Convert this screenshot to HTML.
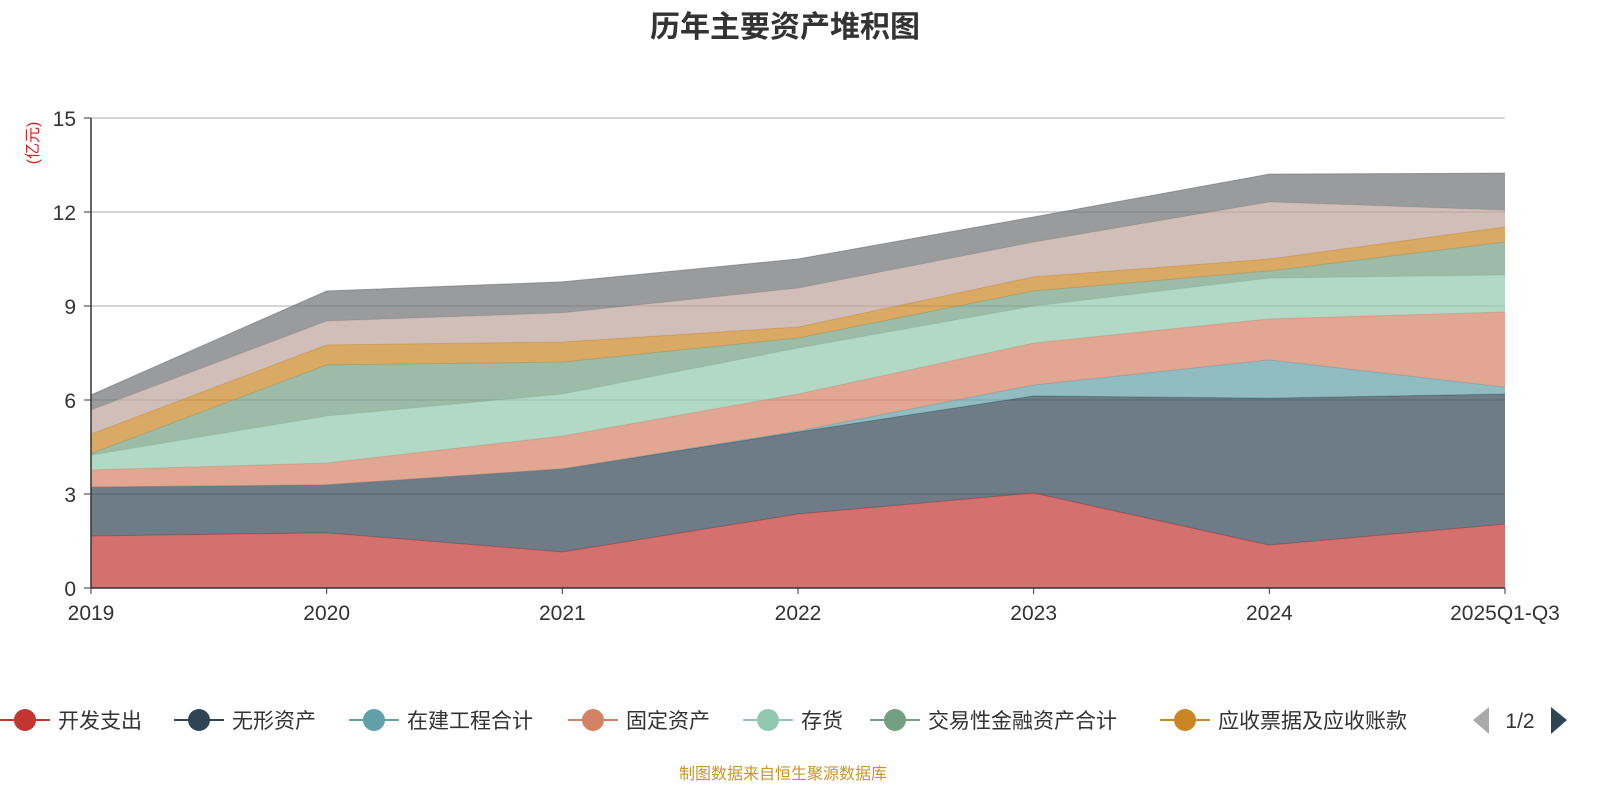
<!DOCTYPE html>
<html><head><meta charset="utf-8"><style>
html,body{margin:0;padding:0;background:#fff;width:1600px;height:800px;overflow:hidden;font-family:"Liberation Sans","Noto Sans CJK SC",sans-serif}
</style></head><body>
<svg id="c" width="1600" height="800" xmlns="http://www.w3.org/2000/svg" font-family="Liberation Sans, Noto Sans CJK SC, sans-serif"></svg>
<script>
const categories=["2019","2020","2021","2022","2023","2024","2025Q1-Q3"];
const seriesNames=["开发支出","无形资产","在建工程合计","固定资产","存货","交易性金融资产合计","应收票据及应收账款","其他1","其他2"];
const s0=[1.66,1.76,1.15,2.36,3.03,1.37,2.04];
const s1=[1.56,1.53,2.65,2.62,3.10,4.69,4.15];
const s2=[0,0,0,0.03,0.35,1.22,0.22];
const s3=[0.55,0.70,1.05,1.18,1.34,1.31,2.40];
const s4=[0.47,1.50,1.34,1.47,1.18,1.30,1.18];
const s5=[0.05,1.63,1.02,0.32,0.48,0.23,1.05];
const s6=[0.62,0.64,0.64,0.35,0.45,0.38,0.48];
const s7=[0.77,0.76,0.93,1.24,1.11,1.82,0.54];
const s8=[0.48,0.96,0.99,0.93,0.80,0.89,1.18];
const series=[s0,s1,s2,s3,s4,s5,s6,s7,s8];
const yTicks=[0,3,6,9,12,15];
const colors=["#c23531","#2f4554","#61a0a8","#d48265","#91c7ae","#749f83","#ca8622","#bda29a","#6e7074"];
const NS="http://www.w3.org/2000/svg";
const svg=document.getElementById('c');
const x0=91,x1=1505,yB=588,yT=118;
const xs=i=>x0+(x1-x0)*i/(categories.length-1);
const ys=v=>yB-(yB-yT)*v/15;
function el(t,a,p){const e=document.createElementNS(NS,t);for(const k in a)e.setAttribute(k,a[k]);(p||svg).appendChild(e);return e;}
// title
let t=el('text',{x:785,y:37,'text-anchor':'middle','font-size':30,'font-weight':'bold',fill:'#333'});t.textContent='历年主要资产堆积图';


// grid
yTicks.forEach(v=>{
 if(v>0){const g=el('line',{x1:x0,x2:x1,y1:ys(v),y2:ys(v),stroke:'#c8c8c8','stroke-width':1.5});
 
 }
 const l=el('text',{x:76,y:ys(v)+8,'text-anchor':'end','font-size':21,fill:'#333'});l.textContent=v;
 
 
 el('line',{x1:84,x2:x0,y1:ys(v),y2:ys(v),stroke:'#333'});
});
// areas
let base=categories.map(()=>0);
series.forEach((s,si)=>{
 const top=base.map((b,i)=>b+s[i]);
 let d='M'+categories.map((_,i)=>xs(i)+','+ys(top[i])).join('L');
 for(let i=categories.length-1;i>=0;i--)d+='L'+xs(i)+','+ys(base[i]);
 const a=el('path',{d:d+'Z',fill:colors[si],'fill-opacity':0.7});
 
 
 el('polyline',{points:categories.map((_,i)=>xs(i)+','+ys(top[i])).join(' '),fill:'none',stroke:colors[si],'stroke-width':1,'stroke-opacity':0.6});
 base=top;
});
// axes
el('line',{x1:x0,x2:x0,y1:yT,y2:yB,stroke:'#333','stroke-width':1.5});
el('line',{x1:x0,x2:x1,y1:yB,y2:yB,stroke:'#333','stroke-width':1.5});
categories.forEach((c,i)=>{
 el('line',{x1:xs(i),x2:xs(i),y1:yB,y2:yB+6,stroke:'#333'});
 const l=el('text',{x:xs(i),y:620,'text-anchor':'middle','font-size':21,fill:'#333'});l.textContent=c;
 
 
});
let u=el('text',{x:0,y:0,'font-size':16,fill:'#e02020',transform:'translate(38,143) rotate(-90)','text-anchor':'middle'});u.textContent='(亿元)';


// legend
const lx=[0,174,349,568,743,870,1160];
for(let i=0;i<7;i++){
 const g=el('g',{});
 
 
 el('line',{x1:lx[i],x2:lx[i]+50,y1:720,y2:720,stroke:colors[i],'stroke-width':2},g);
 el('circle',{cx:lx[i]+25,cy:720,r:11,fill:colors[i]},g);
 const tx=el('text',{x:lx[i]+58,y:728,'font-size':21,fill:'#333'},g);tx.textContent=seriesNames[i];
}
let p1=el('path',{d:'M1489,707 L1489,734 L1473,720Z',fill:'#aaa'});


let pt=el('text',{x:1520,y:728,'text-anchor':'middle','font-size':21,fill:'#333'});pt.textContent='1/2';


let p2=el('path',{d:'M1551,707 L1551,734 L1567,720Z',fill:'#2f4554'});


let f=el('text',{x:783,y:779,'text-anchor':'middle','font-size':16,fill:'#c8952b'});f.textContent='制图数据来自恒生聚源数据库';


</script>
</body></html>
